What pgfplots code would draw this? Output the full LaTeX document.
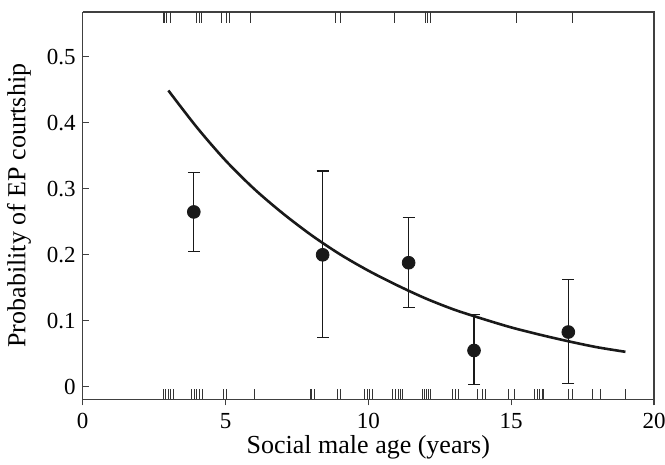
\documentclass[border=0pt]{standalone}
\usepackage{pgfplots}
\usepackage{pgfplotstable}
\pgfplotsset{compat=1.18}
\usepackage{fontspec}
\setmainfont{Liberation Serif}

% Observed courtship probability by age class (mean, lower CI, upper CI)
\pgfplotstableread{
x     y      lo     hi
3.89  0.265  0.205  0.325
8.40  0.200  0.075  0.327
11.41 0.188  0.120  0.257
13.70 0.055  0.003  0.110
17.00 0.083  0.005  0.163
}\means

% Fitted model curve
\pgfplotstableread{
x   p
3   0.449
4   0.393
5   0.343
6   0.300
7   0.263
8   0.230
9   0.201
10  0.176
11  0.154
12  0.134
13  0.117
14  0.103
15  0.090
16  0.079
17  0.069
18  0.060
19  0.053
}\fit

\begin{document}
\begin{tikzpicture}
% page frame: the axis box spans (0,0)--(285.7pt,193.7pt)
\useasboundingbox (-41.35pt,-32.35pt) rectangle (291.2pt,199.7pt);
\begin{axis}[
  at={(0,0)}, anchor=south west,
  scale only axis,
  width=285.7pt, height=193.7pt,
  xmin=0, xmax=20, ymin=-0.019, ymax=0.568,
  axis x line*=bottom, axis y line*=left,
  axis line style={line width=0.7pt, black!75},
  xtick={0,5,10,15,20},
  ytick={0,0.1,...,0.5},
  yticklabels={0,0.1,0.2,0.3,0.4,0.5},
  tick align=inside,
  major tick length=3pt,
  tick style={line width=0.6pt, black!75},
  xtick style={yshift=-3pt},
  /pgf/number format/assume math mode=true,
  ticklabel style={font=\fontsize{11.5}{13}\selectfont},
  xticklabel style={yshift=-3.4pt},
  every axis x label/.style={at={([yshift=-27pt]rel axis cs:0.5,0)}, anchor=base,
    font=\fontsize{13}{15}\selectfont},
  every axis y label/.style={at={([xshift=-28.6pt]rel axis cs:0,0.5)}, rotate=90, anchor=base,
    font=\fontsize{13}{15}\selectfont},
  xlabel={Social male age (years)},
  ylabel={Probability of EP courtship},
  clip=false,
]
% rug of ages without EP courtship
\addplot[only marks, mark=|, mark size=2.5pt, mark options={line width=0.5pt, black!80}]
  coordinates {
  (2.83,-0.0114) (2.91,-0.0114) (2.99,-0.0114) (3.09,-0.0114) (3.18,-0.0114)
  (3.81,-0.0114) (3.90,-0.0114) (4.00,-0.0114) (4.10,-0.0114) (4.18,-0.0114)
  (4.93,-0.0114) (5.05,-0.0114) (6.03,-0.0114)
  (7.96,-0.0114) (8.02,-0.0114) (8.13,-0.0114) (8.92,-0.0114) (9.03,-0.0114)
  (9.88,-0.0114) (9.97,-0.0114) (10.05,-0.0114) (10.14,-0.0114)
  (10.84,-0.0114) (10.95,-0.0114) (11.04,-0.0114) (11.11,-0.0114) (11.19,-0.0114)
  (11.89,-0.0114) (11.97,-0.0114) (12.04,-0.0114) (12.12,-0.0114) (12.18,-0.0114)
  (12.96,-0.0114) (13.05,-0.0114) (13.15,-0.0114)
  (13.81,-0.0114) (13.99,-0.0114) (14.10,-0.0114) (14.92,-0.0114) (15.12,-0.0114)
  (15.83,-0.0114) (15.91,-0.0114) (15.99,-0.0114) (16.08,-0.0114) (16.14,-0.0114)
  (17.01,-0.0114) (17.15,-0.0114) (17.83,-0.0114) (18.13,-0.0114) (19.00,-0.0114)
  };
% rug of ages with EP courtship
\addplot[only marks, mark=|, mark size=2.75pt, mark options={line width=0.5pt, black!80}]
  coordinates {
  (2.83,0.5597) (2.88,0.5597) (2.95,0.5597) (3.09,0.5597)
  (4.00,0.5597) (4.08,0.5597) (4.16,0.5597)
  (4.86,0.5597) (5.03,0.5597) (5.15,0.5597) (5.88,0.5597)
  (8.86,0.5597) (9.03,0.5597) (10.93,0.5597)
  (12.00,0.5597) (12.08,0.5597) (12.18,0.5597)
  (15.17,0.5597) (17.13,0.5597)
  };
% top and right border lines
\draw[line width=0.7pt, black!75] (rel axis cs:0,1) -- (rel axis cs:1,1) -- (rel axis cs:1,0);
% fitted curve
\addplot[smooth, line width=1.3pt, black!90] table[x=x, y=p] {\fit};
% means with confidence intervals
\addplot[only marks, mark=*, mark size=3.2pt, black!90,
  error bars/.cd, y dir=both, y explicit,
  error bar style={line width=0.55pt, black!90},
  error mark options={rotate=90, mark size=3pt, line width=0.55pt, black!90}]
  table[x=x, y=y, y error plus expr=\thisrow{hi}-\thisrow{y},
        y error minus expr=\thisrow{y}-\thisrow{lo}] {\means};
\end{axis}
\end{tikzpicture}
\end{document}
